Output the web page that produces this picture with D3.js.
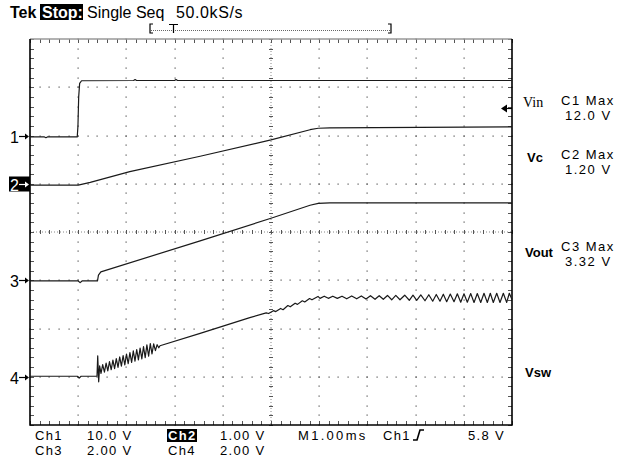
<!DOCTYPE html>
<html>
<head>
<meta charset="utf-8">
<script src="https://cdn.jsdelivr.net/npm/d3@7"></script>
<style>
  body { margin: 0; background: #fff; }
  text { font-family: "Liberation Sans", Arial, sans-serif; fill: #000; }
</style>
</head>
<body>
<div id="scope"></div>
<script>
// ---- scope settings / data (time in ms, values in volts) ----
const chNames = ['Ch1', 'Ch2', 'Ch3', 'Ch4'];
const voltsPerDiv = [10, 1, 2, 2];
const groundDiv = [2, 1, -1, -3];
const traceNames = ['Vin', 'Vc', 'Vout', 'Vsw'];
const maxReadouts = ['12.0 V', '1.20 V', '3.32 V'];
const scaleLabels = ['10.0 V', '1.00 V', '2.00 V', '2.00 V'];
const timebase = 'M1.00ms';
const triggerLevel = 5.8;   // V on Ch1

const vinData = [[0, -0.3], [0.3, -0.3], [0.33, -0.45], [0.36, -0.3], [0.9, -0.3], [0.98, -0.3],
  [0.995, 2], [1.01, 8], [1.03, 10.8], [1.07, 11.35], [2.15, 11.4], [2.18, 11.6], [2.21, 11.4],
  [3.0, 11.4], [3.03, 11.6], [3.06, 11.4], [10, 11.4]];

const vcData = [[0, -0.03], [1.0, -0.03], [1.25, 0.03], [2.07, 0.25], [3.53, 0.57], [5.0, 0.91],
  [5.81, 1.12], [5.98, 1.15], [6.22, 1.16], [10, 1.18]];

const voutData = [[0, -0.03], [1.0, -0.03], [1.04, -0.1], [1.08, -0.03], [1.40, -0.03],
  [1.42, 0.21], [1.47, 0.35], [3.53, 1.63], [5.0, 2.57], [5.81, 3.11], [5.98, 3.19],
  [6.22, 3.21], [10, 3.21]];

const vswData = [[0, 0.02], [0.98, 0.02], [1.02, -0.06], [1.06, 0.02], [1.39, 0.02],
  [1.405, 0.87], [1.425, -0.21], [1.445, 0.45],
  [1.473, 0.14], [1.508, 0.505], [1.544, 0.19], [1.579, 0.565], [1.614, 0.24], [1.649, 0.63],
  [1.685, 0.29], [1.720, 0.69], [1.755, 0.34], [1.790, 0.75], [1.826, 0.39], [1.861, 0.82],
  [1.896, 0.44], [1.932, 0.88], [1.967, 0.49], [2.002, 0.94], [2.037, 0.54], [2.073, 1.00],
  [2.108, 0.59], [2.143, 1.07], [2.178, 0.645], [2.214, 1.13], [2.249, 0.70], [2.284, 1.19],
  [2.320, 0.74], [2.355, 1.25], [2.390, 0.79], [2.425, 1.32], [2.461, 0.85], [2.496, 1.37],
  [2.531, 0.95], [2.566, 1.36], [2.602, 1.08], [2.637, 1.33], [2.672, 1.20],
  [2.697, 1.285], [3.53, 1.80], [4.56, 2.45], [4.9, 2.65], [4.95, 2.62], [5.05, 2.74],
  [5.1, 2.70], [5.2, 2.83], [5.25, 2.78], [5.35, 2.95], [5.4, 2.90], [5.5, 3.05], [5.55, 3.00],
  [5.65, 3.15], [5.7, 3.10], [5.8, 3.24], [5.85, 3.19],
  [5.975, 3.33], [6.017, 3.25], [6.104, 3.34], [6.189, 3.25], [6.282, 3.34], [6.376, 3.25],
  [6.473, 3.34], [6.571, 3.23], [6.674, 3.35], [6.778, 3.23], [6.874, 3.35], [6.971, 3.22],
  [7.064, 3.36], [7.158, 3.21], [7.245, 3.36], [7.330, 3.21], [7.417, 3.37], [7.504, 3.19],
  [7.589, 3.37], [7.676, 3.19], [7.774, 3.38], [7.869, 3.17], [7.946, 3.38], [8.023, 3.17],
  [8.108, 3.39], [8.195, 3.15], [8.274, 3.40], [8.355, 3.13], [8.429, 3.41], [8.506, 3.13],
  [8.575, 3.42], [8.645, 3.11], [8.720, 3.43], [8.797, 3.11], [8.866, 3.44], [8.936, 3.09],
  [9.004, 3.44], [9.073, 3.09], [9.143, 3.45], [9.212, 3.08], [9.280, 3.45], [9.351, 3.08],
  [9.419, 3.46], [9.488, 3.08], [9.550, 3.46], [9.612, 3.08], [9.683, 3.46], [9.751, 3.08],
  [9.820, 3.46], [9.890, 3.08], [9.944, 3.46], [10, 3.20]];

const traces = [vinData, vcData, voutData, vswData];

// ---- layout ----
const W = 619, H = 457;
const plot = {left: 30, right: 512, top: 39, bottom: 425};

const svg = d3.select('#scope').append('svg')
    .attr('width', W)
    .attr('height', H);

const x = d3.scaleLinear().domain([0, 10]).range([plot.left, plot.right]);
const yDiv = d3.scaleLinear().domain([-4, 4]).range([plot.bottom, plot.top]);

function chScale(i) {
    return v => yDiv(groundDiv[i] + v / voltsPerDiv[i]);
}

// ---- graticule ----
const grid = svg.append('g').attr('class', 'grid');
const minorX = d3.range(0, 51).map(i => i / 5);
const minorY = d3.range(0, 41).map(i => -4 + i / 5);
const majorX = d3.range(1, 10).filter(k => k !== 5);
const majorY = d3.range(-3, 4).filter(k => k !== 0);

const dots = [];
majorX.forEach(k => minorY.forEach(d => dots.push([x(k), yDiv(d)])));
majorY.forEach(j => minorX.forEach(t => dots.push([x(t), yDiv(j)])));

grid.selectAll('rect.dot')
    .data(dots)
    .join('rect')
    .attr('class', 'dot')
    .attr('x', d => Math.round(d[0]) - 0.5)
    .attr('y', d => Math.round(d[1]) - 0.5)
    .attr('width', 1.2)
    .attr('height', 1.2)
    .attr('fill', '#555');

// centre cross with ticks
grid.append('line')
    .attr('x1', x(5)).attr('x2', x(5))
    .attr('y1', plot.top).attr('y2', plot.bottom)
    .attr('stroke', '#888').attr('stroke-dasharray', '1,2');
grid.append('line')
    .attr('x1', plot.left).attr('x2', plot.right)
    .attr('y1', yDiv(0)).attr('y2', yDiv(0))
    .attr('stroke', '#888').attr('stroke-dasharray', '1,2');

grid.selectAll('line.vtick')
    .data(minorY)
    .join('line')
    .attr('class', 'vtick')
    .attr('x1', x(5) - 2).attr('x2', x(5) + 2)
    .attr('y1', d => Math.round(yDiv(d)) + 0.5)
    .attr('y2', d => Math.round(yDiv(d)) + 0.5)
    .attr('stroke', '#555');
grid.selectAll('line.htick')
    .data(minorX)
    .join('line')
    .attr('class', 'htick')
    .attr('y1', yDiv(0) - 2).attr('y2', yDiv(0) + 2)
    .attr('x1', d => Math.round(x(d)) + 0.5)
    .attr('x2', d => Math.round(x(d)) + 0.5)
    .attr('stroke', '#555');

// border ticks
const bt = grid.append('g').attr('stroke', '#555');
minorX.forEach(t => {
    const px = Math.round(x(t)) + 0.5;
    bt.append('line').attr('x1', px).attr('x2', px).attr('y1', plot.top).attr('y2', plot.top + 4);
    bt.append('line').attr('x1', px).attr('x2', px).attr('y1', plot.bottom).attr('y2', plot.bottom - 4);
});
minorY.forEach(d => {
    const py = Math.round(yDiv(d)) + 0.5;
    bt.append('line').attr('y1', py).attr('y2', py).attr('x1', plot.left).attr('x2', plot.left + 4);
    bt.append('line').attr('y1', py).attr('y2', py).attr('x1', plot.right).attr('x2', plot.right - 4);
});

// border
grid.append('line').attr('x1', plot.left).attr('x2', plot.right)
    .attr('y1', plot.top).attr('y2', plot.top)
    .attr('stroke', '#999').attr('stroke-width', 1.5);
grid.append('path')
    .attr('d', `M${plot.left},${plot.top}V${plot.bottom}H${plot.right}V${plot.top}`)
    .attr('fill', 'none').attr('stroke', '#000').attr('stroke-width', 1.6);

// ---- traces ----
svg.append('g').attr('class', 'traces')
    .selectAll('path')
    .data(traces)
    .join('path')
    .attr('fill', 'none')
    .attr('stroke', '#1a1a1a')
    .attr('stroke-width', 1.2)
    .attr('stroke-linejoin', 'round')
    .attr('d', (d, i) => {
        const y = chScale(i);
        return d3.line().x(p => x(p[0])).y(p => y(p[1]))(d);
    });

// ---- channel ground markers ----
const markers = svg.append('g').attr('class', 'markers');
chNames.forEach((c, i) => {
    const gy = Math.round(chScale(i)(0)) + 0.5;
    const inv = i === 1;
    const m = markers.append('g');
    if (inv)
        m.append('rect').attr('x', 9).attr('y', gy - 8).attr('width', 21).attr('height', 15).attr('fill', '#000');
    m.append('text')
        .attr('x', 10).attr('y', gy + 6)
        .style('font-size', '16px')
        .style('fill', inv ? '#fff' : '#000')
        .text(i + 1);
    const col = inv ? '#fff' : '#000';
    m.append('line').attr('x1', 19).attr('x2', 26).attr('y1', gy).attr('y2', gy)
        .attr('stroke', col).attr('stroke-width', 1.2);
    m.append('path').attr('d', `M25,${gy - 3}L29,${gy}L25,${gy + 3}Z`).attr('fill', col);
});

// trigger level arrow
const ty = Math.round(chScale(0)(triggerLevel)) + 0.5;
svg.append('path').attr('d', `M501,${ty}L507,${ty - 4}L507,${ty + 4}Z`).attr('fill', '#000');
svg.append('line').attr('x1', 506).attr('x2', plot.right).attr('y1', ty).attr('y2', ty)
    .attr('stroke', '#000').attr('stroke-width', 1.2);

// ---- header ----
const hdr = svg.append('g').attr('class', 'header');
hdr.append('text').attr('x', 10).attr('y', 18)
    .style('font-size', '16px').style('font-weight', 'bold').text('Tek');
hdr.append('rect').attr('x', 40).attr('y', 4).attr('width', 43).attr('height', 16).attr('fill', '#000');
hdr.append('text').attr('x', 42).attr('y', 18)
    .style('font-size', '16px').style('font-weight', 'bold').style('fill', '#fff').text('Stop:');
hdr.append('text').attr('x', 87).attr('y', 18)
    .style('font-size', '16px').text('Single Seq');
hdr.append('text').attr('x', 176).attr('y', 18)
    .style('font-size', '16px').style('letter-spacing', '0.6px').text('50.0kS/s');

// record bar
const rb = hdr.append('g').attr('stroke', '#000').attr('fill', 'none');
rb.append('path').attr('d', 'M153,24H150V33H153').attr('stroke-width', 1.2);
rb.append('path').attr('d', 'M388,24H391V33H388').attr('stroke-width', 1.2);
rb.append('line').attr('x1', 151).attr('x2', 390).attr('y1', 30.5).attr('y2', 30.5)
    .attr('stroke', '#666').attr('stroke-dasharray', '1,1');
rb.append('path').attr('d', 'M169,24.5H178M173.5,24.5V33').attr('stroke-width', 1.2);

// ---- right side labels ----
const rl = svg.append('g').attr('class', 'right');
const nameY = [107, 162, 257, 377];
traceNames.forEach((n, i) => {
    const t = rl.append('text').attr('x', 523).attr('y', nameY[i]).text(n);
    if (i === 0)
        t.style('font-family', '"Liberation Serif", serif').style('font-size', '14px');
    else
        t.style('font-size', '13px').style('font-weight', 'bold').attr('x', i === 1 ? 527 : 525);
});
const maxY = [105, 159, 251];
maxReadouts.forEach((r, i) => {
    rl.append('text').attr('x', 561).attr('y', maxY[i])
        .style('font-size', '13px').style('letter-spacing', '1.5px').text(`C${i + 1} Max`);
    rl.append('text').attr('x', 565).attr('y', maxY[i] + 15)
        .style('font-size', '13px').style('letter-spacing', '1.5px').text(r);
});

// ---- bottom readout ----
const br = svg.append('g').attr('class', 'bottom')
    .style('font-size', '13px').style('letter-spacing', '1.3px');
const rowY = [440, 455];
const colX = [[35, 87], [168, 220]];
chNames.forEach((c, i) => {
    const rowIdx = i < 2 ? 0 : 1;
    const cx = colX[i % 2];
    if (i === 1)
        br.append('rect').attr('x', cx[0] - 1).attr('y', rowY[rowIdx] - 11).attr('width', 30).attr('height', 13).attr('fill', '#000');
    br.append('text').attr('x', cx[0]).attr('y', rowY[rowIdx])
        .style('fill', i === 1 ? '#fff' : '#000').style('font-weight', i === 1 ? 'bold' : 'normal').text(c);
    br.append('text').attr('x', cx[1]).attr('y', rowY[rowIdx]).text(scaleLabels[i]);
});
br.append('text').attr('x', 298).attr('y', rowY[0]).style('letter-spacing', '2.3px').text(timebase);
br.append('text').attr('x', 383).attr('y', rowY[0]).text('Ch1');
br.append('path').attr('d', `M413,${rowY[0]}H417L420,${rowY[0] - 10}H424`)
    .attr('fill', 'none').attr('stroke', '#000').attr('stroke-width', 1.6);
br.append('text').attr('x', 468).attr('y', rowY[0]).text(`${triggerLevel} V`);
</script>
</body>
</html>
